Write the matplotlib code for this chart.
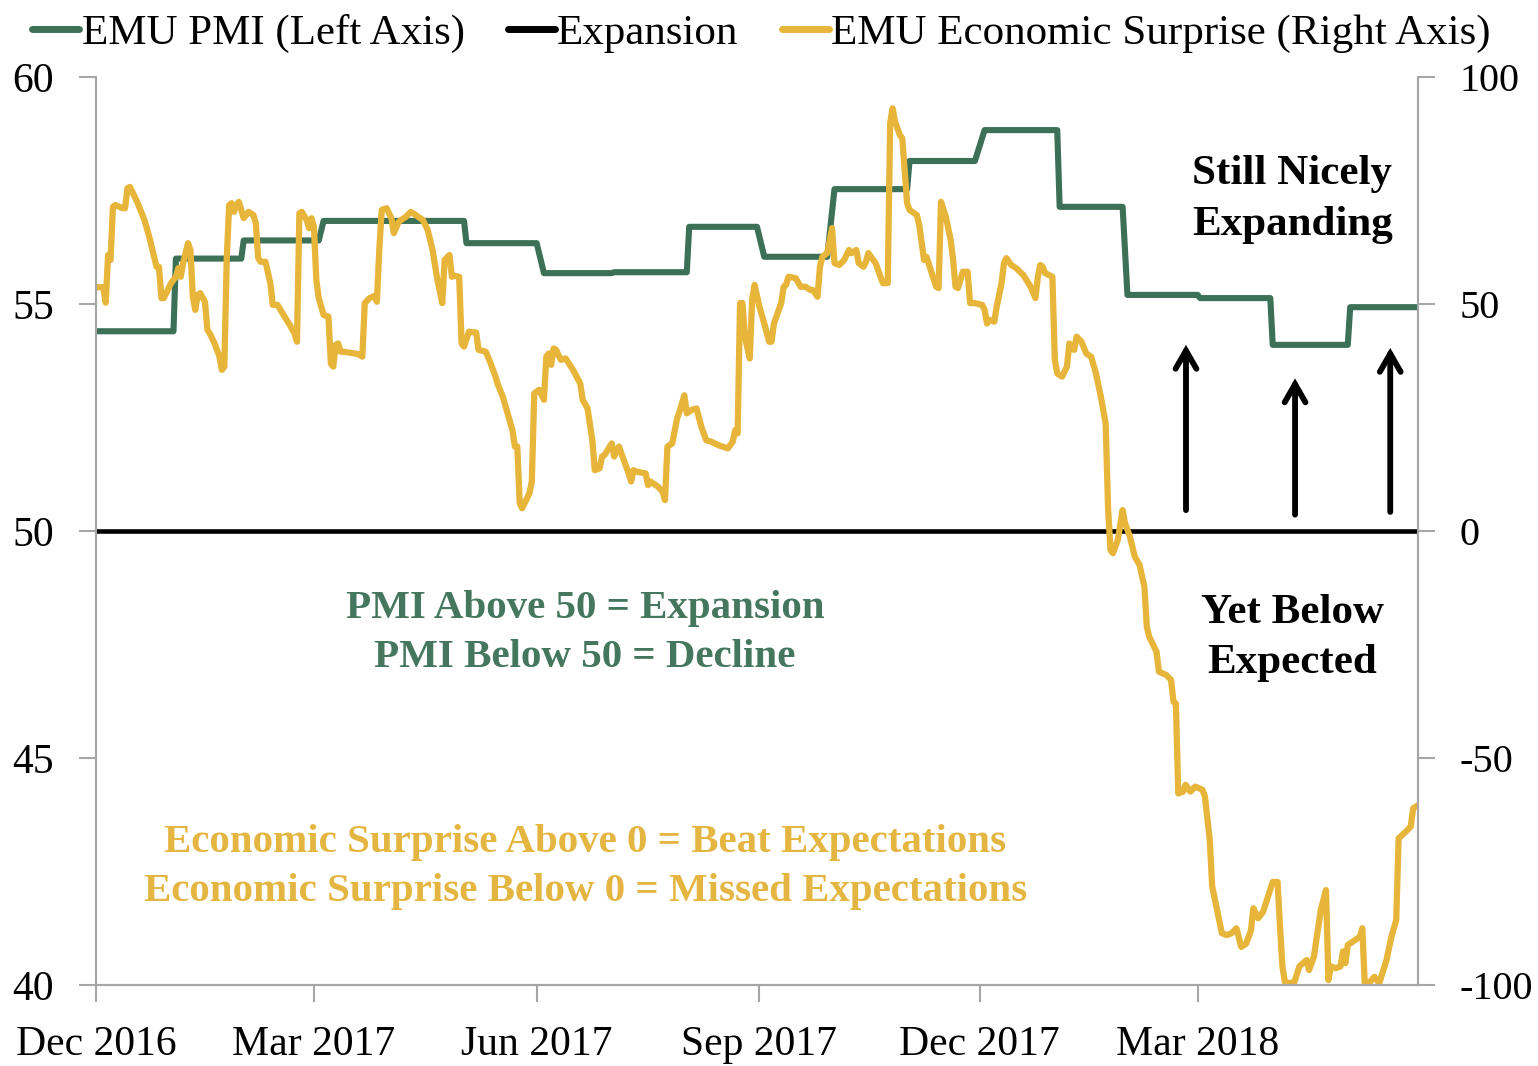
import numpy as np
import matplotlib
matplotlib.use("Agg")
import matplotlib.pyplot as plt

plt.rcParams['font.family'] = ['Liberation Serif', 'DejaVu Serif']
plt.rcParams['axes.unicode_minus'] = False

# ---------------- data (x values are days since 2016-12-01) ----------------
start_date = np.datetime64('2016-12-01')
end_date = np.datetime64('2018-05-31')

pmi_days = [0, 32, 33, 60, 61, 92, 94, 152, 153, 182, 185, 213, 214, 244, 245,
            273, 276, 302, 305, 335, 336, 363, 367, 397, 398, 424, 426, 455,
            456, 485, 486, 517, 518, 546]
pmi_values = [54.4, 54.4, 56.0, 56.0, 56.4, 56.4, 56.83, 56.83, 56.34, 56.34,
              55.68, 55.68, 55.7, 55.7, 56.7, 56.7, 56.04, 56.04, 57.53, 57.53,
              58.15, 58.15, 58.83, 58.83, 57.14, 57.14, 55.2, 55.2, 55.13, 55.13,
              54.1, 54.1, 54.93, 54.93]

surprise_days = [
    0, 3, 4, 5, 6, 7, 8, 11, 12, 13, 14, 17, 20, 22, 24, 25, 26, 27, 28, 31,
    33, 34, 35, 36, 38, 39, 40, 41, 42, 43, 45, 46, 47, 49, 51, 52, 53, 54, 55, 56,
    57, 58, 59, 61, 63, 65, 66, 67, 68, 70, 72, 73, 75, 77, 80, 82, 83, 84, 85, 87,
    88, 89, 90, 91, 92, 94, 96, 97, 98, 99, 100, 101, 102, 108, 110, 111, 113, 115, 116, 117,
    118, 120, 122, 123, 125, 126, 128, 130, 132, 135, 137, 139, 141, 143, 144, 146, 147, 148, 150, 151,
    152, 154, 157, 158, 161, 163, 165, 166, 168, 170, 172, 173, 174, 175, 176, 177, 179, 180, 181, 183,
    185, 186, 187, 188, 189, 190, 192, 194, 197, 200, 201, 203, 205, 206, 208, 209, 210, 213, 214, 216,
    218, 220, 221, 222, 223, 227, 228, 229, 232, 234, 235, 236, 238, 240, 241, 243, 244, 246, 248, 250,
    252, 254, 257, 261, 263, 264, 265, 266, 267, 268, 270, 271, 272, 274, 276, 278, 279, 280, 282, 283,
    284, 285, 286, 289, 291, 293, 295, 296, 298, 299, 300, 302, 304, 305, 307, 309, 311, 312, 314, 315,
    317, 318, 319, 322, 324, 325, 327, 328, 329, 330, 332, 333, 334, 335, 336, 339, 340, 342, 343, 347,
    348, 349, 351, 353, 354, 355, 356, 358, 360, 361, 363, 366, 367, 368, 369, 371, 372, 374, 375, 376,
    378, 380, 383, 386, 388, 389, 390, 391, 392, 395, 396, 397, 399, 401, 402, 404, 405, 407, 409, 411,
    413, 415, 417, 418, 419, 420, 422, 424, 425, 427, 429, 431, 433, 434, 435, 438, 439, 442, 444, 445,
    446, 447, 449, 450, 452, 454, 457, 458, 460, 461, 463, 465, 467, 469, 471, 473, 475, 477, 478, 480,
    482, 484, 486, 488, 489, 490, 491, 493, 495, 497, 500, 501, 503, 504, 506, 508, 509, 510, 512, 514,
    515, 516, 517, 520, 522, 523, 524, 525, 528, 530, 533, 535, 537, 538, 541, 543, 544, 546]
surprise_values = [
    53.7, 53.7, 50.3, 60.8, 59.7, 71.4, 71.8, 71.1, 71.1, 75.5, 75.8, 72.5, 68.5, 64.8, 60.4, 58.2, 58.2, 51.3, 51.3, 54.6,
    56.0, 57.9, 56.0, 59.0, 63.4, 61.9, 51.6, 48.7, 52.0, 52.4, 50.5, 44.3, 43.5, 41.3, 38.4, 35.5, 36.2, 60.0, 71.8, 72.2,
    70.3, 71.8, 72.5, 68.9, 70.3, 69.6, 67.8, 60.1, 59.3, 59.3, 54.6, 49.8, 49.8, 48.0, 45.4, 43.5, 41.7, 70.0, 70.3, 68.5,
    66.7, 68.9, 67.0, 55.3, 51.3, 47.6, 47.2, 36.9, 36.2, 41.0, 41.3, 39.5, 39.5, 39.0, 38.4, 50.2, 51.3, 51.8, 50.5, 61.9,
    70.7, 71.1, 68.9, 65.6, 68.1, 68.5, 69.2, 70.3, 69.6, 68.5, 66.3, 61.9, 55.3, 50.2, 59.7, 60.8, 56.0, 56.2, 56.0, 41.3,
    40.6, 43.9, 43.7, 39.9, 39.5, 36.9, 34.0, 32.2, 29.6, 25.9, 22.2, 18.6, 18.6, 6.1, 5.0, 6.1, 8.3, 10.9, 30.3, 31.1,
    28.9, 38.4, 39.1, 36.6, 40.2, 39.9, 37.7, 38.0, 35.5, 32.5, 28.9, 27.0, 20.0, 13.4, 13.8, 16.4, 16.7, 19.3, 16.4, 18.6,
    15.6, 12.7, 10.9, 13.4, 13.1, 12.7, 10.1, 10.9, 9.8, 8.7, 6.8, 18.6, 19.3, 24.8, 26.3, 29.9, 25.9, 26.7, 27.0, 23.0,
    20.0, 19.7, 18.9, 18.2, 19.7, 22.2, 21.5, 50.2, 50.2, 42.8, 38.0, 50.9, 54.2, 49.4, 45.7, 41.7, 41.7, 45.7, 48.7, 50.2,
    53.8, 54.2, 56.0, 55.7, 53.8, 53.8, 53.1, 53.1, 51.6, 58.2, 60.4, 61.2, 66.7, 59.0, 58.6, 59.7, 61.9, 61.2, 61.9, 59.0,
    58.2, 59.3, 61.2, 59.0, 56.0, 54.6, 54.6, 89.8, 93.1, 90.2, 87.2, 86.5, 79.5, 72.2, 70.7, 69.6, 67.4, 59.7, 60.4, 53.8,
    53.5, 72.5, 69.2, 64.1, 59.7, 53.8, 53.5, 57.1, 57.1, 50.2, 50.2, 49.8, 48.7, 45.7, 46.5, 46.1, 49.4, 54.6, 59.0, 60.1,
    58.6, 57.9, 56.4, 53.8, 51.3, 56.0, 58.6, 58.2, 56.8, 56.0, 37.7, 34.7, 34.0, 36.2, 41.3, 39.9, 42.8, 41.7, 39.1, 38.4,
    34.7, 29.6, 23.7, 5.0, -4.2, -4.9, -2.0, 4.6, 1.7, -1.2, -5.6, -7.5, -12.3, -21.1, -23.3, -26.6, -31.0, -31.7, -32.8, -37.6,
    -38.0, -57.8, -57.4, -55.9, -57.4, -56.3, -57.0, -58.5, -68.1, -78.3, -83.5, -88.6, -89.0, -88.6, -87.5, -91.6, -90.9, -88.0, -83.1, -85.3,
    -83.9, -80.6, -77.3, -77.3, -87.1, -95.9, -99.3, -99.6, -99.3, -95.9, -94.5, -96.7, -93.8, -90.1, -83.1, -79.1, -98.9, -95.9, -96.3, -95.9,
    -92.6, -95.2, -91.2, -90.1, -89.4, -87.5, -99.6, -100.0, -98.2, -99.6, -94.5, -89.4, -85.7, -67.7, -66.2, -65.1, -61.1, -60.4]

expansion_level = 50
left_ticks = [40, 45, 50, 55, 60]
right_ticks = [-100, -50, 0, 50, 100]
x_tick_dates = ['2016-12-01', '2017-03-01', '2017-06-01', '2017-09-01', '2017-12-01', '2018-03-01']
x_tick_labels = ['Dec 2016', 'Mar 2017', 'Jun 2017', 'Sep 2017', 'Dec 2017', 'Mar 2018']

legend_labels = ['EMU PMI (Left Axis)', 'Expansion', 'EMU Economic Surprise (Right Axis)']

# ---------------- styling ----------------
GREEN = '#3C7157'
GOLD = '#E6B53A'
GREEN_TXT = '#44775D'
GOLD_TXT = '#E4B641'
SPINE = '#A6A6A6'
FS_TICK = 30
FS_LEG = 31
FS_NOTE = 29.5

pmi_dates = start_date + np.array(pmi_days).astype('timedelta64[D]')
sur_dates = start_date + np.array(surprise_days).astype('timedelta64[D]')

fig = plt.figure(figsize=(15.38, 10.66), dpi=100)
ax = fig.add_axes([96 / 1538, 1 - 985 / 1066, (1418 - 96) / 1538, (985 - 77) / 1066])
ax2 = ax.twinx()

l1, = ax.plot(pmi_dates, pmi_values, color=GREEN, lw=4.4, solid_joinstyle='round',
              solid_capstyle='butt', zorder=3)
l2 = ax.axhline(expansion_level, color='black', lw=3.3, zorder=4)
l3, = ax2.plot(sur_dates, surprise_values, color=GOLD, lw=4.5, solid_joinstyle='round', zorder=2)

ax.set_ylim(40, 60)
ax2.set_ylim(-100, 100)
ax.set_xlim(start_date, end_date)
ax.set_yticks(left_ticks)
ax2.set_yticks(right_ticks)
ax.set_xticks(np.array(x_tick_dates, dtype='datetime64[D]'))
ax.set_xticklabels(x_tick_labels)

for a in (ax, ax2):
    for s in a.spines.values():
        s.set_color(SPINE)
        s.set_linewidth(1.5)
    a.spines['top'].set_visible(False)

ax.tick_params(axis='y', direction='out', length=12, width=1.5, color=SPINE, labelsize=FS_TICK, pad=18)
ax.tick_params(axis='x', direction='out', length=12, width=1.5, color=SPINE, labelsize=FS_TICK, pad=17)
ax2.tick_params(axis='y', direction='out', length=12, width=1.5, color=SPINE, labelsize=29, pad=18)

leg = fig.legend([l1, l2, l3], legend_labels, loc='upper center', bbox_to_anchor=(0.495, 1.003),
                 ncol=3, frameon=False, fontsize=FS_LEG, handlelength=1.1, handletextpad=0.05,
                 columnspacing=1.0, borderaxespad=0.0)
for h in leg.legend_handles:
    h.set_linewidth(5)
    h.set_solid_capstyle('round')

# annotations
note_kw = dict(transform=ax.transAxes, ha='center', va='center', fontweight='bold', linespacing=1.42)
ax2.text(0.905, 0.865, 'Still Nicely\nExpanding', fontsize=31, **note_kw)
ax2.text(0.905, 0.382, 'Yet Below\nExpected', fontsize=31, **note_kw)
ax2.text(0.370, 0.388, 'PMI Above 50 = Expansion\nPMI Below 50 = Decline', color=GREEN_TXT,
         fontsize=FS_NOTE, **note_kw)
ax2.text(0.370, 0.130, 'Economic Surprise Above 0 = Beat Expectations\nEconomic Surprise Below 0 = Missed Expectations',
         color=GOLD_TXT, fontsize=FS_NOTE, **note_kw)

for xa, y0, y1 in [(0.8245, 0.523, 0.705), (0.907, 0.518, 0.668), (0.979, 0.521, 0.7016)]:
    ax2.annotate('', xy=(xa, y1), xytext=(xa, y0), xycoords='axes fraction',
                 arrowprops=dict(arrowstyle='->,head_length=1.3,head_width=0.75', color='black',
                                 lw=4.2, capstyle='round', joinstyle='miter', shrinkA=0, shrinkB=0))

fig.savefig('out.png', dpi=100)
